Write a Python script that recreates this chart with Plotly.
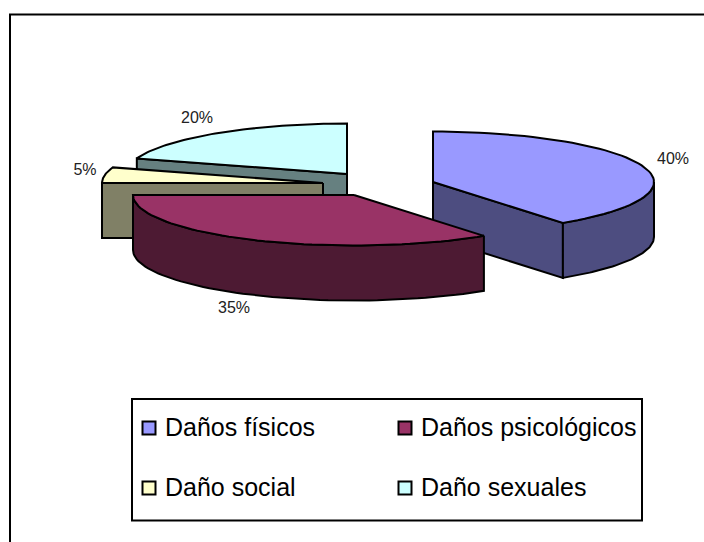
import numpy as np
import plotly.graph_objects as go

categories = ["Daños físicos", "Daños psicológicos", "Daño social", "Daño sexuales"]
values = [40, 35, 5, 20]
top_colors = ["#9999FF", "#993366", "#FFFFCC", "#CCFFFF"]
side_colors = ["#4D4D80", "#4D1A33", "#808066", "#668080"]

# exploded-slice apex for each category, in the pixel-sized plot coordinates
apex_x = [433, 354, 323, 347]
apex_y = [182, 195, 183, 174]
RX, RY, DEPTH = 221, 50.5, 55
W, H = 704, 542

total = sum(values)
edges = np.cumsum([0] + values) / total * 2 * np.pi


def rim(cx, cy, a, b, drop=0.0, n=60):
    t = np.linspace(a, b, n)
    return cx + RX * np.sin(t), cy - RY * np.cos(t) + drop


fig = go.Figure()


def poly(xs, ys, color):
    xs, ys = list(xs), list(ys)
    fig.add_trace(go.Scatter(
        x=xs + xs[:1], y=ys + ys[:1], mode="lines", fill="toself", fillcolor=color,
        line=dict(color="black", width=2), hoverinfo="skip", showlegend=False))


def wall(cx, cy, a, b, color):
    x, y = rim(cx, cy, a, b)
    poly(list(x) + list(x[::-1]), list(y) + list(y[::-1] + DEPTH), color)


def radial(cx, cy, a, color):
    x, y = rim(cx, cy, a, a, n=1)
    poly([cx, x[0], x[0], cx], [cy, y[0], y[0] + DEPTH, cy + DEPTH], color)


def top(cx, cy, a, b, color):
    x, y = rim(cx, cy, a, b)
    poly([cx] + list(x), [cy] + list(y), color)


# back-to-front painting order: sexual, social, physical, psychological
for i in [3, 2, 0, 1]:
    cx, cy = apex_x[i], apex_y[i]
    a, b = edges[i], edges[i + 1]
    if i == 0:
        radial(cx, cy, b, side_colors[i])
    if i == 2:
        radial(cx, cy, a, side_colors[i])
    if i == 3:
        radial(cx, cy, a, side_colors[i])
    lo, hi = max(a, np.pi / 2), min(b, 3 * np.pi / 2)
    if lo < hi:
        wall(cx, cy, lo, hi, side_colors[i])
    top(cx, cy, a, b, top_colors[i])

# percentage labels
label_x = [673, 234, 85, 197]
label_y = [160, 309, 171, 119]
fig.add_trace(go.Scatter(
    x=label_x, y=label_y, mode="text", text=[f"{v}%" for v in values],
    textfont=dict(family="Liberation Sans", size=16, color="#222222"),
    hoverinfo="skip", showlegend=False))

# legend
marker_x = [149, 405, 149, 405]
marker_y = [428, 428, 488, 488]
text_x = [163, 419, 163, 419]
text_y = [427, 427, 487, 487]
fig.add_trace(go.Scatter(
    x=marker_x, y=marker_y, mode="markers", hoverinfo="skip", showlegend=False,
    marker=dict(symbol="square", size=13, color=top_colors, line=dict(color="black", width=2))))
for name, tx, ty in zip(categories, text_x, text_y):
    fig.add_annotation(x=tx, y=ty, text=name, showarrow=False, xanchor="left", yanchor="middle",
                       xref="x", yref="y", font=dict(family="Liberation Sans", size=25, color="black"))

fig.add_shape(type="rect", x0=132, y0=399, x1=642, y1=520.5, line=dict(color="black", width=2), xref="x", yref="y")
fig.add_shape(type="rect", x0=10, y0=14.5, x1=760, y1=600, line=dict(color="black", width=2), xref="x", yref="y")

fig.update_layout(
    width=W, height=H, margin=dict(l=0, r=0, t=0, b=0), autosize=False,
    paper_bgcolor="white", plot_bgcolor="white", showlegend=False,
    xaxis=dict(range=[0, W], visible=False, fixedrange=True),
    yaxis=dict(range=[H, 0], visible=False, fixedrange=True),
)
fig.write_html("out.html", config={"displayModeBar": False},
               default_width=f"{W}px", default_height=f"{H}px",
               post_script="document.body.style.margin='0';document.body.style.overflow='hidden';")
